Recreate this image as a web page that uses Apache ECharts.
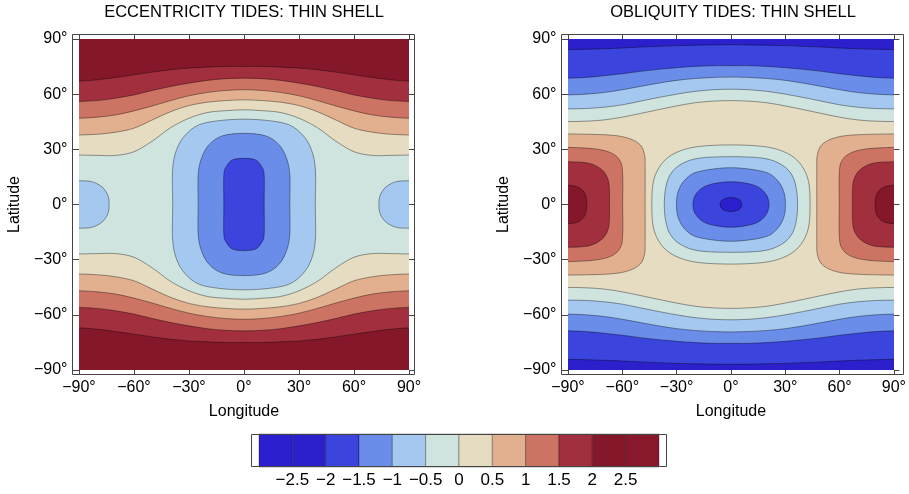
<!DOCTYPE html>
<html>
<head>
<meta charset="utf-8">
<script src="https://cdn.jsdelivr.net/npm/echarts@6.0.0/dist/echarts.min.js"></script>
<style>
  html, body { margin: 0; padding: 0; background: #fff; }
  #chart { width: 909px; height: 494px; }
</style>
</head>
<body>
<div id="chart"></div>
<script>
// contour levels and the colour of each band between two levels
const levels = [-3, -2.5, -2, -1.5, -1, -0.5, 0, 0.5, 1, 1.5, 2, 2.5, 3];
const bandColors = ['#2b1fd0', '#2c20cc', '#3b44dd', '#6a8de9', '#a5c8f0', '#cfe3df',
                    '#e5dcc1', '#e3b08f', '#cc7364', '#a12f3d', '#85172b', '#88182b'];

// longitudes (deg) at which the east-west contours were read, mirrored to the west
const lonSamples = [0, 10, 20, 30, 40, 50, 60, 70, 80, 90];

// eccentricity: latitude of the northern contours (mirrored to the south)
const eccBandLevels = [0, 0.5, 1, 1.5, 2];
const eccBandLat = [
  [51.5, 51.0, 50.0, 46.9, 41.8, 34.5, 28.7, 26.7, 26.7, 26.9],
  [56.9, 56.5, 55.6, 53.8, 50.5, 46.0, 41.5, 39.3, 38.2, 37.8],
  [62.4, 62.0, 60.9, 59.1, 56.5, 53.6, 50.9, 48.7, 47.5, 46.9],
  [68.7, 68.4, 67.5, 66.0, 64.2, 62.0, 59.6, 57.8, 56.5, 56.0],
  [75.1, 75.1, 74.7, 74.2, 73.3, 72.0, 70.5, 69.1, 67.8, 67.1]
];
// eccentricity: closed contours round (0,0), one quadrant [lon, lat]
const eccCoreLevels = [-0.5, -1, -1.5];
const eccCorePts = [
  [[38.9, 0], [38.9, 19.6], [36.5, 30.5], [32, 37.8], [24.7, 43.3], [13.7, 45.6], [0, 46.4]],
  [[25, 0], [25, 16], [23.2, 25.1], [19.2, 32.4], [11.9, 37.3], [0, 38.7]],
  [[11, 0], [11, 16], [9.7, 20.5], [6.4, 24.2], [0, 25.1]]
];
// eccentricity: contour touching lon = +-90
const eccSideLevels = [-0.5];
const eccSidePts = [
  [[90, 12.9], [83, 12.4], [77.5, 9.6], [74.3, 5.1], [73.6, 0]]
];

// obliquity: latitude of the northern contours
const oblBandLevels = [0, -0.5, -1, -1.5, -2];
const oblBandLat = [
  [56.5, 56.2, 55.3, 53.6, 51.6, 49.5, 47.5, 46.0, 45.3, 45.1],
  [62.7, 62.4, 61.5, 60.0, 58.2, 56.2, 54.2, 52.9, 52.2, 52.0],
  [69.3, 69.1, 68.5, 67.5, 66.0, 64.2, 62.4, 60.9, 60.0, 59.6],
  [75.5, 75.5, 75.1, 74.4, 73.5, 72.4, 71.1, 70.0, 69.1, 68.7],
  [86.9, 86.8, 86.6, 86.4, 86.0, 85.6, 85.1, 84.7, 84.4, 84.2]
];
// obliquity: contours touching lon = +-90
const oblSideLevels = [0.5, 1, 1.5, 2];
const oblSidePts = [
  [[90, 38.4], [67.4, 37.8], [56.5, 36.0], [50.1, 32.4], [47.7, 26.9], [47.4, 19.6], [47.4, 0]],
  [[90, 31.1], [74.7, 30.2], [65.6, 27.8], [61, 23.3], [59.8, 16], [59.8, 0]],
  [[90, 23.3], [78.3, 22.4], [71.1, 18.7], [67.8, 13.3], [67.1, 6.9], [67.1, 0]],
  [[90, 10.5], [83.8, 9.1], [80.5, 5.5], [79.6, 0]]
];
// obliquity: closed contours round (0,0)
const oblCoreLevels = [0, -0.5, -1, -1.5, -2];
const oblCorePts = [
  [[43.7, 0], [43.2, 10.5], [41, 17.8], [36.4, 24.2], [29.2, 28.7], [18.2, 31.5], [0, 32.4]],
  [[36.8, 0], [36.1, 8.7], [33.7, 16], [28.2, 21.5], [18.2, 25.1], [0, 26]],
  [[30.1, 0], [29.2, 6.9], [25.5, 13.3], [18.2, 17.8], [0, 20]],
  [[21, 0], [19.1, 6], [12.8, 10.5], [0, 12.4]],
  [[6, 0], [4.5, 2.7], [0, 3.8]]
];

const lineColor = 'rgba(0,0,0,0.38)';

const above = c => Math.round((c + 3) / 0.5);     // band just above level c
const below = c => Math.round((c + 3) / 0.5) - 1; // band just below level c

function bandRegion(lat, north, band) {
  const s = north ? 1 : -1;
  const pts = [[-100, s * lat[9]]];
  for (let i = 9; i >= 1; i--) pts.push([-lonSamples[i], s * lat[i]]);
  for (let i = 0; i <= 9; i++) pts.push([lonSamples[i], s * lat[i]]);
  pts.push([100, s * lat[9]]);
  return { kind: 'band', pts, corners: [[100, s * 100], [-100, s * 100]], band };
}
function ring(q) {
  const out = q.slice();
  q.slice(0, -1).reverse().forEach(([x, y]) => out.push([-x, y]));
  q.slice(1).forEach(([x, y]) => out.push([-x, -y]));
  q.slice(1, -1).reverse().forEach(([x, y]) => out.push([x, -y]));
  return out;
}
function sideBlob(q, s) {
  const top = q[0][1];
  const pts = [[s * 100, top]];
  q.forEach(([x, y]) => pts.push([s * x, y]));
  q.slice(0, -1).reverse().forEach(([x, y]) => pts.push([s * x, -y]));
  pts.push([s * 100, -top]);
  return pts;
}

function buildRegions(base, bLevels, bLat, bUp, sLevels, sPts, sUp, cLevels, cPts) {
  const regions = [{ kind: 'rect', pts: [[-100, -100], [100, -100], [100, 100], [-100, 100]], band: base }];
  bLevels.forEach((c, k) => {
    const band = bUp ? above(c) : below(c);
    regions.push(bandRegion(bLat[k], true, band));
    regions.push(bandRegion(bLat[k], false, band));
  });
  sLevels.forEach((c, k) => {
    const band = sUp ? above(c) : below(c);
    regions.push({ kind: 'ring', pts: sideBlob(sPts[k], 1), band });
    regions.push({ kind: 'ring', pts: sideBlob(sPts[k], -1), band });
  });
  cLevels.forEach((c, k) => {
    regions.push({ kind: 'ring', pts: ring(cPts[k]), band: below(c) });
  });
  return regions;
}

const eccRegions = buildRegions(5, eccBandLevels, eccBandLat, true,
  eccSideLevels, eccSidePts, false, eccCoreLevels, eccCorePts);
const oblRegions = buildRegions(6, oblBandLevels, oblBandLat, false,
  oblSideLevels, oblSidePts, true, oblCoreLevels, oblCorePts);

const f = p => p[0].toFixed(2) + ' ' + p[1].toFixed(2);
function smoothPath(pts, closed) {
  const n = pts.length;
  const get = i => closed ? pts[(i + n) % n] : pts[Math.max(0, Math.min(n - 1, i))];
  let d = 'M' + f(pts[0]);
  const segs = closed ? n : n - 1;
  for (let i = 0; i < segs; i++) {
    const p0 = get(i - 1), p1 = get(i), p2 = get(i + 1), p3 = get(i + 2);
    const c1 = [p1[0] + (p2[0] - p0[0]) / 6, p1[1] + (p2[1] - p0[1]) / 6];
    const c2 = [p2[0] - (p3[0] - p1[0]) / 6, p2[1] - (p3[1] - p1[1]) / 6];
    d += ' C' + f(c1) + ' ' + f(c2) + ' ' + f(p2);
  }
  return closed ? d + ' Z' : d;
}

function renderer(regions) {
  return function (params, api) {
    const r = regions[params.dataIndex];
    const px = r.pts.map(p => api.coord(p));
    let d;
    if (r.kind === 'rect') {
      d = 'M' + px.map(f).join(' L') + ' Z';
    } else if (r.kind === 'band') {
      d = smoothPath(px, false) + ' L' + f(api.coord(r.corners[0])) + ' L' + f(api.coord(r.corners[1])) + ' Z';
    } else {
      d = smoothPath(px, true);
    }
    return {
      type: 'path',
      shape: { pathData: d },
      style: { fill: bandColors[r.band], stroke: r.kind === 'rect' ? null : lineColor, lineWidth: 1 }
    };
  };
}

const degLabel = v => (v < 0 ? '\u2212' + (-v) : String(v)) + '\u00b0';
const labelStyle = { fontSize: 16, color: '#000', fontFamily: 'Liberation Sans' };
const nameStyle = { fontSize: 16, color: '#000', fontFamily: 'Liberation Sans' };

function lonAxis(grid, pos, offset, labels) {
  return {
    gridIndex: grid, type: 'value', position: pos, offset: offset,
    min: -90, max: 90, interval: 30,
    name: labels ? 'Longitude' : '', nameLocation: 'middle', nameGap: 29, nameTextStyle: nameStyle,
    axisLine: { show: false, onZero: false },
    axisTick: { show: true, inside: true, length: offset, lineStyle: { color: '#444', width: 1 } },
    axisLabel: { show: labels, formatter: degLabel, margin: 5, ...labelStyle },
    splitLine: { show: false }, z: 5
  };
}
function latAxis(grid, pos, offset, labels) {
  return {
    gridIndex: grid, type: 'value', position: pos, offset: offset,
    min: -90, max: 90, interval: 30,
    name: labels ? 'Latitude' : '', nameLocation: 'middle', nameGap: 50, nameTextStyle: nameStyle,
    axisLine: { show: false, onZero: false },
    axisTick: { show: true, inside: true, length: offset, lineStyle: { color: '#444', width: 1 } },
    axisLabel: { show: labels, formatter: degLabel, margin: 5, ...labelStyle },
    splitLine: { show: false }, z: 5
  };
}

const frameStyle = { fill: null, stroke: '#444', lineWidth: 1 };
const titleStyle = { fontSize: 16.5, fontWeight: 'normal', color: '#000', fontFamily: 'Liberation Sans' };

const option = {
  animation: false,
  textStyle: { fontFamily: 'Liberation Sans' },
  title: [
    { text: 'ECCENTRICITY TIDES: THIN SHELL', left: 244, top: 4, textAlign: 'center', padding: 0, textStyle: titleStyle },
    { text: 'OBLIQUITY TIDES: THIN SHELL', left: 733, top: 4, textAlign: 'center', padding: 0, textStyle: titleStyle }
  ],
  grid: [
    { left: 79, top: 39, width: 330, height: 331 },
    { left: 568, top: 39, width: 330, height: 331 },
    { left: 259, top: 434, width: 400, height: 33 }
  ],
  xAxis: [
    lonAxis(0, 'bottom', 4.5, true),
    lonAxis(0, 'top', 4.5, false),
    lonAxis(1, 'bottom', 4.5, true),
    lonAxis(1, 'top', 4.5, false),
    {
      gridIndex: 2, type: 'value', min: -3, max: 3, interval: 0.5,
      axisLine: { show: false, onZero: false }, axisTick: { show: false }, splitLine: { show: false },
      axisLabel: { showMinLabel: false, showMaxLabel: false, margin: 5,
        formatter: v => String(v).replace('-', '\u2212'), ...labelStyle, fontSize: 17 }
    }
  ],
  yAxis: [
    latAxis(0, 'left', 6.5, true),
    latAxis(0, 'right', 5.5, false),
    latAxis(1, 'left', 6.5, true),
    latAxis(1, 'right', 5.5, false),
    { gridIndex: 2, type: 'value', min: 0, max: 1, show: false }
  ],
  graphic: [
    { type: 'rect', z: 100, silent: true, shape: { x: 72.5, y: 34.5, width: 342, height: 340 }, style: frameStyle },
    { type: 'rect', z: 100, silent: true, shape: { x: 561.5, y: 34.5, width: 342, height: 340 }, style: frameStyle },
    { type: 'rect', z: 100, silent: true, shape: { x: 251.5, y: 434.5, width: 415, height: 32 }, style: frameStyle }
  ],
  series: [
    {
      type: 'custom', xAxisIndex: 0, yAxisIndex: 0, clip: true, silent: true,
      renderItem: renderer(eccRegions),
      data: eccRegions.map((r, i) => [0, 0, i])
    },
    {
      type: 'custom', xAxisIndex: 2, yAxisIndex: 2, clip: true, silent: true,
      renderItem: renderer(oblRegions),
      data: oblRegions.map((r, i) => [0, 0, i])
    },
    {
      type: 'custom', xAxisIndex: 4, yAxisIndex: 4, silent: true,
      renderItem: function (params, api) {
        const p1 = api.coord([api.value(0), 0]);
        const p2 = api.coord([api.value(1), 1]);
        return {
          type: 'rect',
          shape: { x: p1[0], y: p2[1], width: p2[0] - p1[0], height: p1[1] - p2[1] },
          style: { fill: bandColors[api.value(2)], stroke: 'rgba(0,0,0,0.3)', lineWidth: 1 }
        };
      },
      data: levels.slice(0, -1).map((lo, i) => [lo, levels[i + 1], i])
    }
  ]
};

const chart = echarts.init(document.getElementById('chart'));
chart.setOption(option);
window.addEventListener('resize', chart.resize);
</script>
</body>
</html>
